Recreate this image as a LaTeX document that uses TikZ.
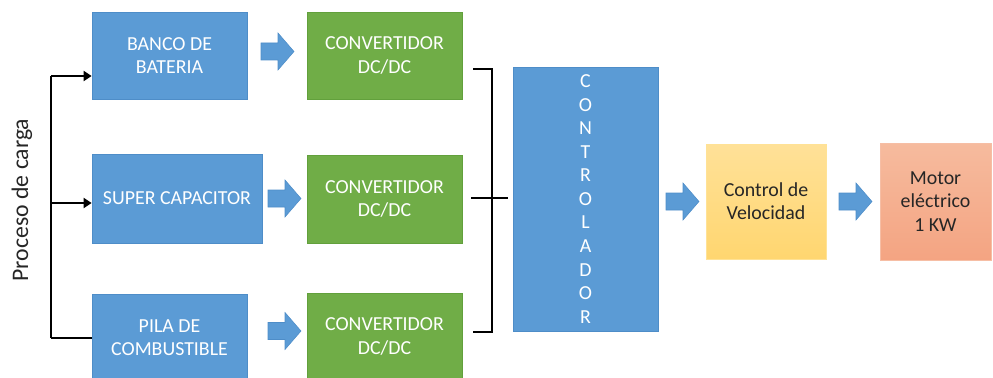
\documentclass[tikz,border=0pt]{standalone}
\usepackage{fontspec}
\setmainfont{Carlito}
\usetikzlibrary{arrows.meta}
\definecolor{bfill}{HTML}{5B9BD5}
\definecolor{bdraw}{HTML}{4E8DC8}
\definecolor{gfill}{HTML}{70AD47}
\definecolor{gdraw}{HTML}{62A03C}
\definecolor{ytop}{RGB}{255,225,152}
\definecolor{ybot}{RGB}{255,214,112}
\definecolor{ydraw}{RGB}{255,226,150}
\definecolor{stop}{RGB}{246,187,158}
\definecolor{sbot}{RGB}{244,164,130}
\definecolor{sdraw}{RGB}{246,190,165}
\definecolor{dtext}{HTML}{262626}
\tikzset{
  x=0.75pt, y=-0.75pt,
  bx/.style 2 args={minimum width=#1*0.75pt, minimum height=#2*0.75pt, inner sep=0pt, align=center,
     font=\fontsize{14.9}{17.4}\selectfont},
  bluebox/.style={fill=bfill, draw=bdraw, line width=0.5pt, text=white},
  greenbox/.style={fill=gfill, draw=gdraw, line width=0.5pt, text=white},
  yelbox/.style={top color=ytop, bottom color=ybot, draw=ydraw, line width=0.5pt, text=dtext},
  salbox/.style={top color=stop, bottom color=sbot, draw=sdraw, line width=0.5pt, text=dtext},
  wire/.style={draw=black, line width=2pt},
  wirearrow/.style={wire, -{Triangle[length=6pt,width=7.5pt]}},
  barrow/.pic={\filldraw[fill=bfill, draw=bdraw, line width=0.4pt]
     (0,-8.5) -- (17,-8.5) -- (17,-18.5) -- (33,0) -- (17,18.5) -- (17,8.5) -- (0,8.5) -- cycle;}
}
\begin{document}
\begin{tikzpicture}
\useasboundingbox (0,0) rectangle (993,378);
% source boxes
\node[bx={155}{87}, bluebox] (b1) at (169.5,55.5) {BANCO DE\\BATERIA};
\node[bx={170}{89}, bluebox] (b2) at (177,198.5) {SUPER CAPACITOR};
\node[bx={155}{87}, bluebox] (b3) at (169.5,337.5) {PILA DE\\COMBUSTIBLE};
% converters
\node[bx={155}{87}, greenbox] (c1) at (384.5,55.5) {CONVERTIDOR\\DC/DC};
\node[bx={155}{88}, greenbox] (c2) at (384.5,199) {CONVERTIDOR\\DC/DC};
\node[bx={155}{87}, greenbox] (c3) at (384.5,336.5) {CONVERTIDOR\\DC/DC};
% controller
\node[bx={145}{264}, bluebox, font=\fontsize{14.9}{17.66}\selectfont] (ctrl) at (585.5,199)
  {C\\O\\N\\T\\R\\O\\L\\A\\D\\O\\R};
\node[bx={120}{115}, yelbox] (vel) at (766,201.5) {Control de\\Velocidad};
\node[bx={111}{117}, salbox] (mot) at (935.5,201.5) {Motor\\eléctrico\\1 KW};
% label
\node[rotate=90, font=\fontsize{17.8}{20}\selectfont, text=dtext, inner sep=0pt] (lbl) at (22,200) {Proceso de carga};
% block arrows
\pic (a1) at (261,51.5) {barrow};
\pic (a2) at (268,198.5) {barrow};
\pic (a3) at (268,331) {barrow};
\pic (a4) at (666,201.5) {barrow};
\pic (a5) at (839,201.5) {barrow};
% left distribution
\coordinate (l1) at (51,76);
\coordinate (l2) at (51,203);
\coordinate (l3) at (51,338);
\draw[wire] (l1) -- (l3);
\draw[wirearrow] (l1) -- (b1.west |- l1);
\draw[wirearrow] (l2) -- (b2.west |- l2);
\draw[wire] (l3) -- (b3.west |- l3);
% right bracket
\coordinate (r1) at (473,69);
\coordinate (r2) at (492,69);
\coordinate (r3) at (492,332);
\coordinate (r4) at (473,332);
\coordinate (m1) at (471,198);
\coordinate (m2) at (508,198);
\draw[wire] (r1) -- (r2) -- (r3) -- (r4);
\draw[wire] (m1) -- (m2);
\end{tikzpicture}
\end{document}
